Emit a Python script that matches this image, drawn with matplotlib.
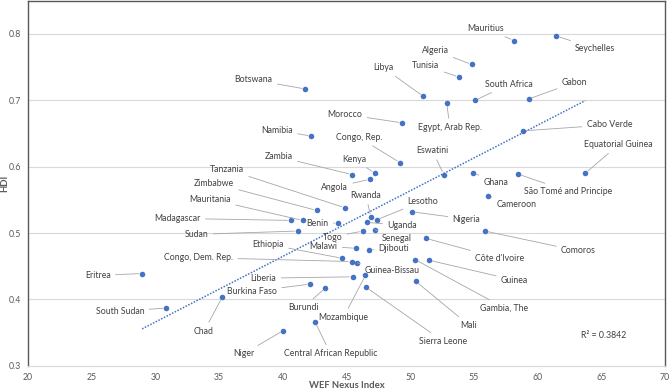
import matplotlib
matplotlib.use("Agg")
import matplotlib.pyplot as plt
import numpy as np

# WEF Nexus Index vs HDI, African countries
countries = ["Mauritius", "Seychelles", "Algeria", "Tunisia", "Libya", "Egypt, Arab Rep.",
             "South Africa", "Gabon", "Cabo Verde", "Equatorial Guinea", "Botswana", "Morocco",
             "Namibia", "Congo, Rep.", "Zambia", "Kenya", "Angola", "Eswatini", "Ghana",
             "São Tomé and Principe", "Cameroon", "Nigeria", "Comoros", "Côte d'Ivoire", "Guinea",
             "Gambia, The", "Mali", "Rwanda", "Lesotho", "Uganda", "Benin", "Senegal", "Togo",
             "Malawi", "Djibouti", "Ethiopia", "Congo, Dem. Rep.", "Guinea-Bissau", "Liberia",
             "Mozambique", "Burkina Faso", "Burundi", "Sierra Leone", "Central African Republic",
             "Niger", "Chad", "South Sudan", "Eritrea", "Tanzania", "Zimbabwe", "Mauritania",
             "Madagascar", "Sudan"]
wef_index = [58.17, 61.47, 54.83, 53.83, 51.03, 52.86, 55.11, 59.30, 58.85, 63.74, 41.77, 49.38,
             42.24, 49.20, 45.46, 47.24, 46.84, 52.63, 54.90, 58.43, 56.08, 50.14, 55.85, 51.22,
             51.48, 50.38, 50.45, 46.90, 47.37, 46.58, 44.33, 47.24, 46.27, 45.77, 46.79, 44.65,
             45.41, 45.85, 45.49, 46.48, 42.13, 43.34, 46.55, 42.53, 40.04, 35.23, 30.86, 28.95,
             44.88, 42.66, 41.56, 40.64, 41.17]
hdi = [0.790, 0.797, 0.754, 0.735, 0.706, 0.696, 0.700, 0.702, 0.654, 0.590, 0.717, 0.666,
       0.646, 0.606, 0.588, 0.590, 0.581, 0.588, 0.591, 0.589, 0.556, 0.532, 0.503, 0.492,
       0.459, 0.460, 0.427, 0.524, 0.520, 0.516, 0.515, 0.505, 0.503, 0.477, 0.475, 0.462,
       0.457, 0.455, 0.434, 0.436, 0.423, 0.417, 0.418, 0.366, 0.353, 0.403, 0.387, 0.439,
       0.538, 0.534, 0.519, 0.519, 0.503]
r2_text = "R² = 0.3842"

# where each data label sits (data coords), same order as countries
label_pos = [(55.91, 0.808), (64.47, 0.778), (51.95, 0.775), (51.24, 0.752), (47.90, 0.749),
             (53.12, 0.659), (57.72, 0.724), (62.90, 0.727), (65.64, 0.663), (66.35, 0.633),
             (37.70, 0.731), (44.88, 0.679), (39.54, 0.655), (45.98, 0.644), (39.66, 0.615),
             (45.59, 0.611), (44.06, 0.569), (51.75, 0.624), (56.70, 0.576), (62.39, 0.563),
             (58.34, 0.543), (54.42, 0.521), (63.21, 0.473), (57.01, 0.462), (58.19, 0.429),
             (57.40, 0.387), (54.62, 0.361), (46.53, 0.557), (51.00, 0.548), (49.36, 0.512),
             (42.72, 0.515), (48.92, 0.491), (43.90, 0.494), (43.19, 0.480), (48.73, 0.477),
             (38.84, 0.483), (33.38, 0.463), (48.61, 0.444), (38.48, 0.432), (44.76, 0.373),
             (37.58, 0.412), (41.59, 0.388), (52.57, 0.337), (43.74, 0.318), (36.92, 0.318),
             (33.81, 0.352), (27.22, 0.382), (25.46, 0.436), (35.62, 0.596), (34.60, 0.575),
             (34.29, 0.551), (31.73, 0.522), (33.23, 0.498)]

plt.rcParams['font.family'] = ['Lato', 'DejaVu Sans']

fig = plt.figure(figsize=(6.69, 3.92), dpi=100)
ax = fig.add_axes([0.042, 0.067, 0.952, 0.931])

x = np.array(wef_index)
y = np.array(hdi)

ax.scatter(x, y, s=16, color='#4472C4', zorder=3, linewidths=0)

# linear trendline
m, b = np.polyfit(x, y, 1)
xt = np.array([x.min(), x.max()])
ax.plot(xt, m * xt + b, linestyle=(0, (1, 1)), color='#4472C4', lw=1.1, zorder=2)

for name, px, py, (lx, ly) in zip(countries, x, y, label_pos):
    ax.annotate(name, xy=(px, py), xytext=(lx, ly), fontsize=6.3, color='#404040',
                ha='center', va='center',
                arrowprops=dict(arrowstyle='-', color='#a6a6a6', lw=0.6,
                                shrinkA=1.5, shrinkB=2.5))

ax.text(65.21, 0.345, r2_text, fontsize=6.3, color='#404040', ha='center', va='center')

ax.set_xlim(20, 70)
ax.set_ylim(0.3, 0.85)
ax.set_xticks(np.arange(20, 71, 5))
ax.set_yticks([0.3, 0.4, 0.5, 0.6, 0.7, 0.8])
ax.set_yticklabels(["0.3", "0.4", "0.5", "0.6", "0.7", "0.8"])
ax.tick_params(length=0, labelsize=6.3, colors='#595959', pad=5)
ax.grid(axis='y', color='#d9d9d9', lw=0.8)
ax.set_axisbelow(True)

for side in ['top', 'left', 'right']:
    ax.spines[side].set_color('#595959')
    ax.spines[side].set_linewidth(1.0)
ax.spines['bottom'].set_color('#d9d9d9')
ax.spines['bottom'].set_linewidth(0.8)

ax.set_xlabel('WEF Nexus Index', fontsize=6.8, fontweight='bold', color='#595959')
ax.set_ylabel('HDI', fontsize=6.8, fontweight='bold', color='#595959')
ax.xaxis.set_label_coords(0.5, -0.043)
ax.yaxis.set_label_coords(-0.03, 0.5)

fig.savefig('out.png', dpi=100)
